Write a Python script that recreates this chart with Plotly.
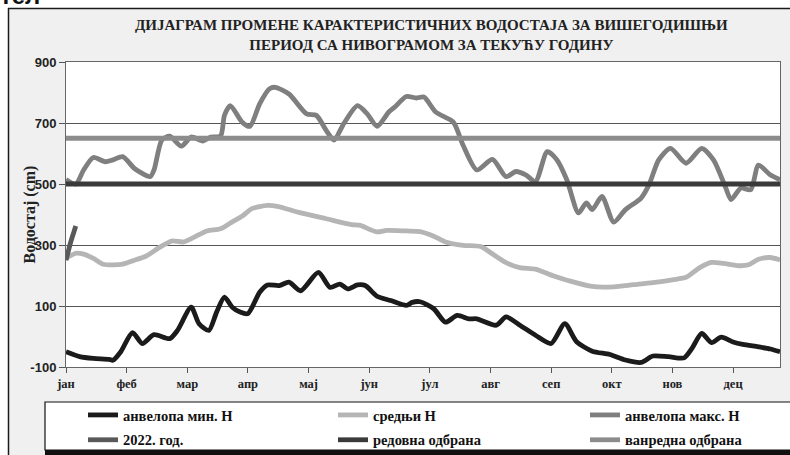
import plotly.graph_objects as go

# ---- data (day of year 0..365, water level in cm) ----
months = ["јан", "феб", "мар", "апр", "мај", "јун", "јул", "авг", "сеп", "окт", "нов", "дец"]
month_days = [0, 31, 62, 93, 124, 155, 186, 217, 248, 279, 310, 341]

min_days = [0, 7, 14, 22, 24, 28, 34, 39, 45, 53, 57, 64, 68, 73, 77, 81, 85, 89, 93, 99, 103, 109, 114, 120,
            129, 135, 140, 144, 149, 153, 159, 166, 174, 177, 181, 188, 194, 200, 206, 210, 220, 225, 232, 240,
            248, 255, 261, 269, 278, 286, 294, 300, 308, 316, 320, 325, 330, 335, 341, 346, 354, 360, 365]
min_vals = [-50, -66, -72, -75, -78, -50, 13, -23, 6, -7, 20, 96, 42, 20, 80, 129, 96, 80, 75, 145, 169, 167, 178, 150,
            210, 161, 172, 156, 169, 167, 132, 118, 102, 112, 114, 91, 47, 69, 58, 58, 37, 64, 37, 4,
            -23, 42, -17, -48, -59, -77, -85, -64, -66, -70, -39, 10, -20, -2, -18, -26, -34, -41, -50]

mean_days = [0, 5, 9, 14, 19, 24, 29, 34, 41, 48, 54, 60, 65, 72, 79, 85, 90, 95, 103, 108, 119, 133, 146, 150,
             159, 164, 174, 181, 188, 194, 203, 212, 217, 225, 232, 240, 249, 257, 269, 280, 290, 300, 310, 317,
             324, 330, 336, 344, 349, 354, 360, 365]
mean_vals = [256, 273, 270, 256, 237, 235, 237, 248, 264, 293, 313, 310, 324, 346, 353, 376, 394, 419, 430, 427, 407, 386, 367, 365,
             343, 348, 346, 344, 329, 310, 299, 295, 275, 242, 226, 221, 199, 183, 164, 163, 170, 177, 186, 194,
             226, 243, 240, 232, 235, 253, 259, 251]

max_days = [0, 5, 9, 14, 20, 24, 29, 35, 43, 45, 49, 53, 59, 64, 70, 74, 79, 81, 84, 90, 94, 99, 104, 107, 114,
            123, 128, 133, 137, 142, 149, 154, 159, 165, 168, 174, 179, 183, 189, 198, 203, 210, 218, 225, 230,
            235, 240, 246, 251, 256, 262, 266, 269, 274, 280, 286, 294, 298, 303, 309, 317, 325, 331, 337, 340,
            345, 350, 354, 360, 365]
max_vals = [515, 500, 546, 587, 573, 579, 590, 551, 524, 546, 644, 657, 624, 654, 641, 654, 657, 725, 757, 703, 689, 763, 812, 817, 795,
            730, 725, 676, 644, 698, 757, 730, 689, 736, 752, 787, 782, 785, 736, 703, 627, 546, 581, 524, 541,
            530, 508, 606, 579, 514, 405, 438, 416, 459, 375, 416, 454, 497, 579, 617, 568, 617, 579, 492, 449,
            487, 481, 562, 530, 514]

y2022_days = [0, 1, 2, 3, 4, 5]
y2022_vals = [250, 275, 300, 322, 342, 362]

redovna = 500
vanredna = 650
year_span = [0, 365]

# ---- geometry helpers (styling only) ----
W, H = 790, 455
ML, MR, MT, MB = 66, 10, 62, 88
PW, PH = W - ML - MR, H - MT - MB


def px(x):
    return (x - ML) / PW


def py(y):
    return (H - MB - y) / PH


serif = "Liberation Serif, Times New Roman, serif"
sans = "Liberation Sans, Arial, sans-serif"

series = [
    ("анвелопа мин. Н", min_days, min_vals, "#1b1b1b", "legend", True),
    ("средњи Н", mean_days, mean_vals, "#b5b5b5", "legend2", True),
    ("анвелопа макс. Н", max_days, max_vals, "#7f7f7f", "legend3", True),
    ("2022. год.", y2022_days, y2022_vals, "#595959", "legend", True),
    ("редовна одбрана", year_span, [redovna, redovna], "#3a3a3a", "legend2", False),
    ("ванредна одбрана", year_span, [vanredna, vanredna], "#8c8c8c", "legend3", False),
]

fig = go.Figure()
for i, (name, xs, ys, col, leg, smooth) in enumerate(series):
    line = dict(color=col, width=4.8)
    if smooth:
        line.update(shape="spline", smoothing=0.7)
    fig.add_trace(go.Scatter(x=xs, y=ys, name="<b>%s</b>" % name, mode="lines", line=line,
                             legend=leg, legendgroup="g%d" % i, legendrank=i))

shapes = [
    dict(type="rect", xref="paper", yref="paper", x0=px(-20), x1=px(820), y0=py(8), y1=py(-20),
         fillcolor="white", line=dict(width=0), layer="below"),
    dict(type="rect", xref="paper", yref="paper", x0=px(-20), x1=px(8), y0=py(480), y1=py(8),
         fillcolor="white", line=dict(width=0), layer="below"),
    dict(type="line", xref="paper", yref="paper", x0=px(8), x1=px(820), y0=py(8.5), y1=py(8.5),
         line=dict(color="#1a1a1a", width=1.5), layer="below"),
    dict(type="line", xref="paper", yref="paper", x0=px(8.5), x1=px(8.5), y0=py(8), y1=py(480),
         line=dict(color="#1a1a1a", width=1.5), layer="below"),
    dict(type="rect", xref="paper", yref="paper", x0=px(45), x1=px(820), y0=py(450), y1=py(402),
         fillcolor="white", line=dict(color="#111", width=1.2), layer="below"),
    dict(type="rect", xref="paper", yref="paper", x0=px(45), x1=px(820), y0=py(470), y1=py(450),
         fillcolor="#111", line=dict(width=0), layer="below"),
]

title = ("<b>ДИЈАГРАМ ПРОМЕНЕ КАРАКТЕРИСТИЧНИХ ВОДОСТАЈА ЗА ВИШЕГОДИШЊИ</b><br>"
         "<b>ПЕРИОД СА НИВОГРАМОМ ЗА ТЕКУЋУ ГОДИНУ</b>")
annotations = [
    dict(text=title, xref="paper", yref="paper", x=px(431), y=py(35), xanchor="center", yanchor="middle",
         showarrow=False, font=dict(family=serif, size=15, color="#222"), align="center"),
    dict(text="<b>Водостај (cm)</b>", xref="paper", yref="paper", x=px(29), y=0.5, textangle=-90,
         xanchor="center", yanchor="middle", showarrow=False, font=dict(family=serif, size=16, color="#222")),
    dict(text="<b>тел</b>", xref="paper", yref="paper", x=px(-2), y=py(11), xanchor="left", yanchor="bottom",
         showarrow=False, font=dict(family=sans, size=24, color="#111")),
]

leg_common = dict(orientation="v", xanchor="left", yanchor="top", y=py(399),
                  bgcolor="rgba(0,0,0,0)", borderwidth=0, tracegroupgap=3,
                  font=dict(family=serif, size=14.5, color="#111"))

fig.update_layout(
    width=W, height=H,
    margin=dict(l=ML, r=MR, t=MT, b=MB, autoexpand=False),
    paper_bgcolor="#f0f0f0", plot_bgcolor="white",
    showlegend=True,
    legend=dict(x=px(83), **leg_common),
    legend2=dict(x=px(333), **leg_common),
    legend3=dict(x=px(585), **leg_common),
    shapes=shapes, annotations=annotations,
    xaxis=dict(range=[0, 365], tickvals=month_days, ticktext=["<b>%s</b>" % m for m in months],
               ticks="outside", ticklen=5, tickcolor="#555", showgrid=False, zeroline=False,
               showline=True, linecolor="#666", linewidth=1, mirror=True,
               tickfont=dict(family=serif, size=12.5, color="#222")),
    yaxis=dict(range=[-100, 900], tickvals=[-100, 100, 300, 500, 700, 900],
               ticktext=["<b>%d</b>" % v for v in [-100, 100, 300, 500, 700, 900]],
               ticks="outside", ticklen=6, tickcolor="#555", showgrid=True, gridcolor="#555", gridwidth=1,
               zeroline=False, showline=True, linecolor="#666", linewidth=1, mirror=True,
               tickfont=dict(family=sans, size=13, color="#222")),
)

# remove the browser's default page margin so the figure sits at the window origin
fig.write_html("out.html", config={"displayModeBar": False},
               post_script="document.body.style.margin='0px';")
